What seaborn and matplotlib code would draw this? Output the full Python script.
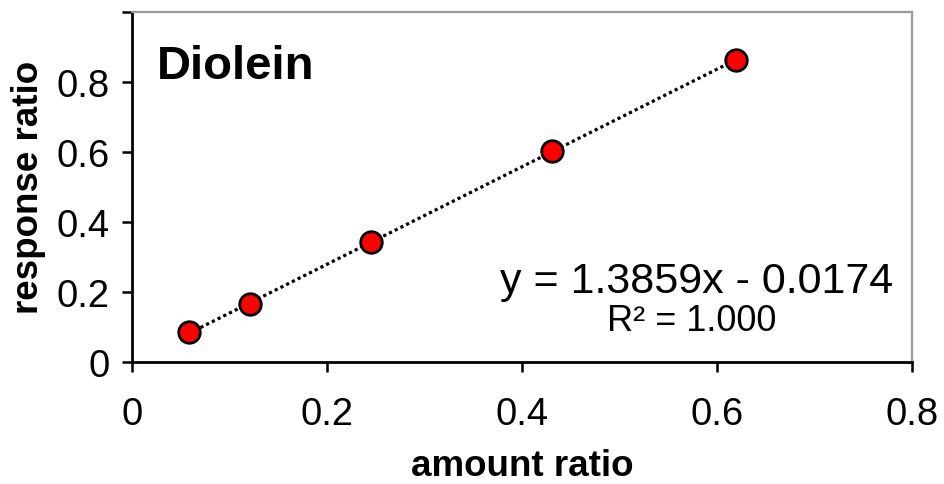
import matplotlib
matplotlib.use("Agg")
import matplotlib.pyplot as plt
import seaborn as sns
import numpy as np
import pandas as pd

# data
amount_ratio = [0.0585, 0.1214, 0.2455, 0.431, 0.619]
response_ratio = [0.084, 0.165, 0.341, 0.603, 0.861]
x_ticks = [0, 0.2, 0.4, 0.6, 0.8]
x_tick_labels = ["0", "0.2", "0.4", "0.6", "0.8"]
y_ticks = [0, 0.2, 0.4, 0.6, 0.8, 1.0]
y_tick_labels = ["0", "0.2", "0.4", "0.6", "0.8", ""]
title_text = "Diolein"
equation_text = "y = 1.3859x - 0.0174"
r2_text = "R\u00b2 = 1.000"

df = pd.DataFrame({"amount ratio": amount_ratio, "response ratio": response_ratio})

sns.set_theme(style="white")
plt.rcParams["font.family"] = ["Liberation Sans", "DejaVu Sans"]
plt.rcParams["text.color"] = "black"
plt.rcParams["axes.labelcolor"] = "black"
plt.rcParams["xtick.color"] = "black"
plt.rcParams["ytick.color"] = "black"

fig = plt.figure(figsize=(9.44, 4.85), dpi=100)
ax = fig.add_axes([132 / 944, 1 - 362.7 / 485, 780 / 944, 350 / 485])

sns.regplot(
    data=df, x="amount ratio", y="response ratio", ax=ax, ci=None, truncate=True,
    scatter_kws=dict(s=240, color="#ff0000", edgecolor="black", linewidths=2.0, alpha=1, zorder=3),
    line_kws=dict(color="black", lw=2.3, linestyle=(0, (1, 1)), zorder=2),
)

ax.set_xlim(0, 0.8)
ax.set_ylim(0, 1.0)
ax.set_xticks(x_ticks)
ax.set_xticklabels(x_tick_labels)
ax.set_yticks(y_ticks)
ax.set_yticklabels(y_tick_labels)

ax.tick_params(axis="both", which="major", direction="out", length=7, width=1.8,
               color="black", labelcolor="black", labelsize=27.5, left=True, bottom=True)
ax.tick_params(axis="x", pad=18)
ax.tick_params(axis="y", pad=9)
for s in ["left", "bottom"]:
    ax.spines[s].set_color("black")
    ax.spines[s].set_linewidth(2.0)
for s in ["top", "right"]:
    ax.spines[s].set_color("#999999")
    ax.spines[s].set_linewidth(1.6)

ax.set_xlabel("amount ratio", fontsize=26.5, fontweight="bold", labelpad=11, color="black")
ax.set_ylabel("response ratio", fontsize=26.5, fontweight="bold", labelpad=8, color="black")

ax.text(0.032, 0.845, title_text, transform=ax.transAxes, fontsize=34,
        fontweight="bold", ha="left", va="center", color="black")
ax.text(0.724, 0.231, equation_text, transform=ax.transAxes, fontsize=31,
        ha="center", va="center", color="black")
ax.text(0.717, 0.118, r2_text, transform=ax.transAxes, fontsize=26,
        ha="center", va="center", color="black")

fig.savefig("out.png", dpi=100)
